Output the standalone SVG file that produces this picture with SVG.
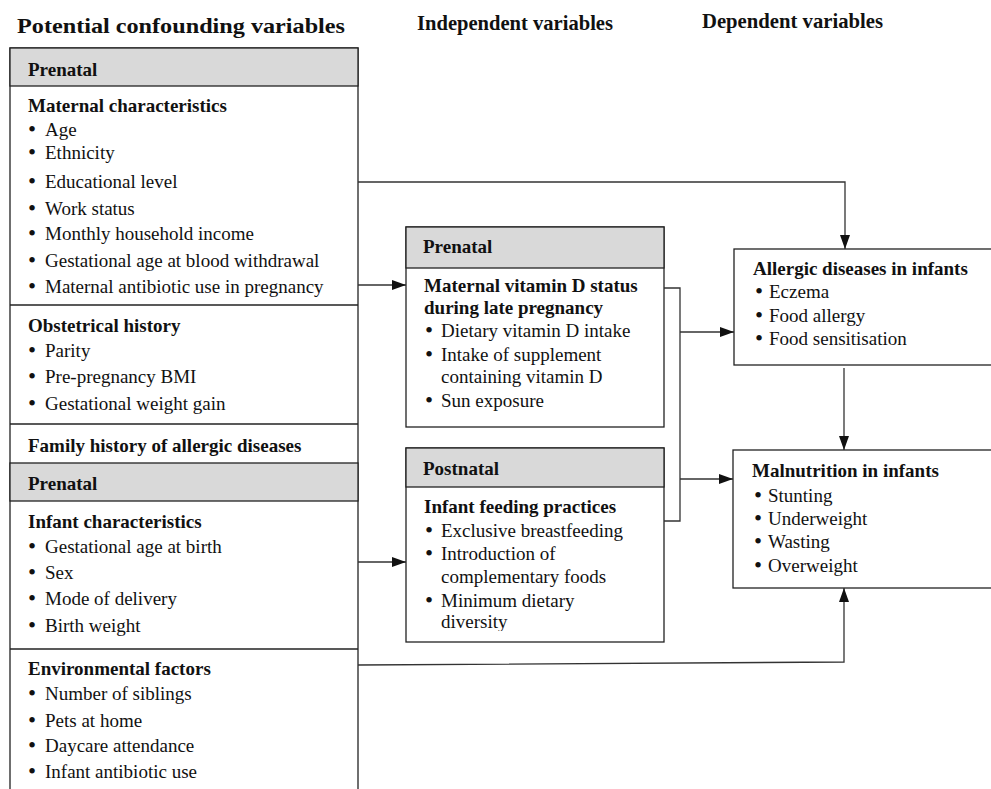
<svg xmlns="http://www.w3.org/2000/svg" width="991" height="789" viewBox="0 0 991 789">
<defs>
<style>
text{font-family:"Liberation Serif","Times New Roman",serif;font-size:19px;fill:#111}
.b{font-weight:bold}
.t{font-weight:bold;font-size:21px}
.bl{font-size:23px}
.box{fill:#fff;stroke:#222;stroke-width:1.3}
.hdr{fill:#d9d9d9;stroke:#222;stroke-width:1.3}
.ln{fill:none;stroke:#222;stroke-width:1.3}
.con{fill:none;stroke:#333;stroke-width:1.3}
</style>
<marker id="ah" viewBox="0 0 14 10" refX="14" refY="5" markerWidth="14" markerHeight="11" markerUnits="userSpaceOnUse" orient="auto">
<path d="M0,0 L14,5 L0,10 Z" fill="#111"/>
</marker>
<clipPath id="clipPost"><rect x="406" y="448" width="258" height="183"/></clipPath>
</defs>
<rect width="991" height="789" fill="#fff"/>

<g id="titles">
<text class="t" x="17" y="33" textLength="328" lengthAdjust="spacingAndGlyphs">Potential confounding variables</text>
<text class="t" x="417" y="30" textLength="196" lengthAdjust="spacingAndGlyphs">Independent variables</text>
<text class="t" x="702" y="28" textLength="181" lengthAdjust="spacingAndGlyphs">Dependent variables</text>
</g>

<g id="confounders">
<rect class="box" x="10" y="48" width="348" height="760"/>
<rect class="hdr" x="10" y="48" width="348" height="38"/>
<text class="b" x="28" y="76">Prenatal</text>
<text class="b" x="28" y="112">Maternal characteristics</text>
<text><tspan class="bl" x="28" y="137">•</tspan><tspan x="45" y="136">Age</tspan></text>
<text><tspan class="bl" x="28" y="160">•</tspan><tspan x="45" y="159">Ethnicity</tspan></text>
<text><tspan class="bl" x="28" y="189">•</tspan><tspan x="45" y="188">Educational level</tspan></text>
<text><tspan class="bl" x="28" y="216">•</tspan><tspan x="45" y="215">Work status</tspan></text>
<text><tspan class="bl" x="28" y="241">•</tspan><tspan x="45" y="240">Monthly household income</tspan></text>
<text><tspan class="bl" x="28" y="268">•</tspan><tspan x="45" y="267">Gestational age at blood withdrawal</tspan></text>
<text><tspan class="bl" x="28" y="294">•</tspan><tspan x="45" y="293">Maternal antibiotic use in pregnancy</tspan></text>
<line class="ln" x1="10" y1="305" x2="358" y2="305"/>
<text class="b" x="28" y="332">Obstetrical history</text>
<text><tspan class="bl" x="28" y="358">•</tspan><tspan x="45" y="357">Parity</tspan></text>
<text><tspan class="bl" x="28" y="384">•</tspan><tspan x="45" y="383">Pre-pregnancy BMI</tspan></text>
<text><tspan class="bl" x="28" y="411">•</tspan><tspan x="45" y="410">Gestational weight gain</tspan></text>
<line class="ln" x1="10" y1="424" x2="358" y2="424"/>
<text class="b" x="28" y="452">Family history of allergic diseases</text>
<rect class="hdr" x="10" y="463" width="348" height="38"/>
<text class="b" x="28" y="490">Prenatal</text>
<text class="b" x="28" y="528">Infant characteristics</text>
<text><tspan class="bl" x="28" y="554">•</tspan><tspan x="45" y="553">Gestational age at birth</tspan></text>
<text><tspan class="bl" x="28" y="580">•</tspan><tspan x="45" y="579">Sex</tspan></text>
<text><tspan class="bl" x="28" y="606">•</tspan><tspan x="45" y="605">Mode of delivery</tspan></text>
<text><tspan class="bl" x="28" y="633">•</tspan><tspan x="45" y="632">Birth weight</tspan></text>
<line class="ln" x1="10" y1="649" x2="358" y2="649"/>
<text class="b" x="28" y="675">Environmental factors</text>
<text><tspan class="bl" x="28" y="701">•</tspan><tspan x="45" y="700">Number of siblings</tspan></text>
<text><tspan class="bl" x="28" y="728">•</tspan><tspan x="45" y="727">Pets at home</tspan></text>
<text><tspan class="bl" x="28" y="753">•</tspan><tspan x="45" y="752">Daycare attendance</tspan></text>
<text><tspan class="bl" x="28" y="779">•</tspan><tspan x="45" y="778">Infant antibiotic use</tspan></text>
</g>

<g id="vitaminD">
<rect class="box" x="406" y="227" width="258" height="200"/>
<rect class="hdr" x="406" y="227" width="258" height="41"/>
<text class="b" x="423" y="253">Prenatal</text>
<text class="b" x="424" y="292">Maternal vitamin D status</text>
<text class="b" x="424" y="314">during late pregnancy</text>
<text><tspan class="bl" x="425" y="338">•</tspan><tspan x="441" y="337">Dietary vitamin D intake</tspan></text>
<text><tspan class="bl" x="425" y="362">•</tspan><tspan x="441" y="361">Intake of supplement</tspan></text>
<text x="441" y="383">containing vitamin D</text>
<text><tspan class="bl" x="425" y="408">•</tspan><tspan x="441" y="407">Sun exposure</tspan></text>
</g>

<g id="feeding">
<rect class="box" x="406" y="448" width="258" height="194"/>
<rect class="hdr" x="406" y="448" width="258" height="39"/>
<text class="b" x="423" y="475">Postnatal</text>
<text class="b" x="424" y="513">Infant feeding practices</text>
<text><tspan class="bl" x="425" y="538">•</tspan><tspan x="441" y="537">Exclusive breastfeeding</tspan></text>
<text><tspan class="bl" x="425" y="561">•</tspan><tspan x="441" y="560">Introduction of</tspan></text>
<text x="441" y="583">complementary foods</text>
<text><tspan class="bl" x="425" y="608">•</tspan><tspan x="441" y="607">Minimum dietary</tspan></text>
<text x="441" y="628" clip-path="url(#clipPost)">diversity</text>
</g>

<g id="allergic">
<rect class="box" x="734" y="249" width="270" height="116"/>
<text class="b" x="753" y="275">Allergic diseases in infants</text>
<text><tspan class="bl" x="755" y="299">•</tspan><tspan x="769" y="298">Eczema</tspan></text>
<text><tspan class="bl" x="755" y="323">•</tspan><tspan x="769" y="322">Food allergy</tspan></text>
<text><tspan class="bl" x="755" y="346">•</tspan><tspan x="769" y="345">Food sensitisation</tspan></text>
</g>

<g id="malnutrition">
<rect class="box" x="733" y="450" width="270" height="138"/>
<text class="b" x="752" y="477">Malnutrition in infants</text>
<text><tspan class="bl" x="754" y="503">•</tspan><tspan x="768" y="502">Stunting</tspan></text>
<text><tspan class="bl" x="754" y="526">•</tspan><tspan x="768" y="525">Underweight</tspan></text>
<text><tspan class="bl" x="754" y="549">•</tspan><tspan x="768" y="548">Wasting</tspan></text>
<text><tspan class="bl" x="754" y="573">•</tspan><tspan x="768" y="572">Overweight</tspan></text>
</g>

<g id="connectors">
<polyline class="con" points="358,182 845,182 845,249" marker-end="url(#ah)"/>
<line class="con" x1="358" y1="285" x2="406" y2="285" marker-end="url(#ah)"/>
<line class="con" x1="358" y1="562" x2="406" y2="562" marker-end="url(#ah)"/>
<polyline class="con" points="664,288 680,288 680,521 664,521"/>
<line class="con" x1="680" y1="332" x2="734" y2="332" marker-end="url(#ah)"/>
<line class="con" x1="680" y1="479" x2="733" y2="479" marker-end="url(#ah)"/>
<line class="con" x1="844" y1="368" x2="844" y2="450" marker-end="url(#ah)"/>
<polyline class="con" points="358,665 844,662 844,588" marker-end="url(#ah)"/>
</g>
</svg>
